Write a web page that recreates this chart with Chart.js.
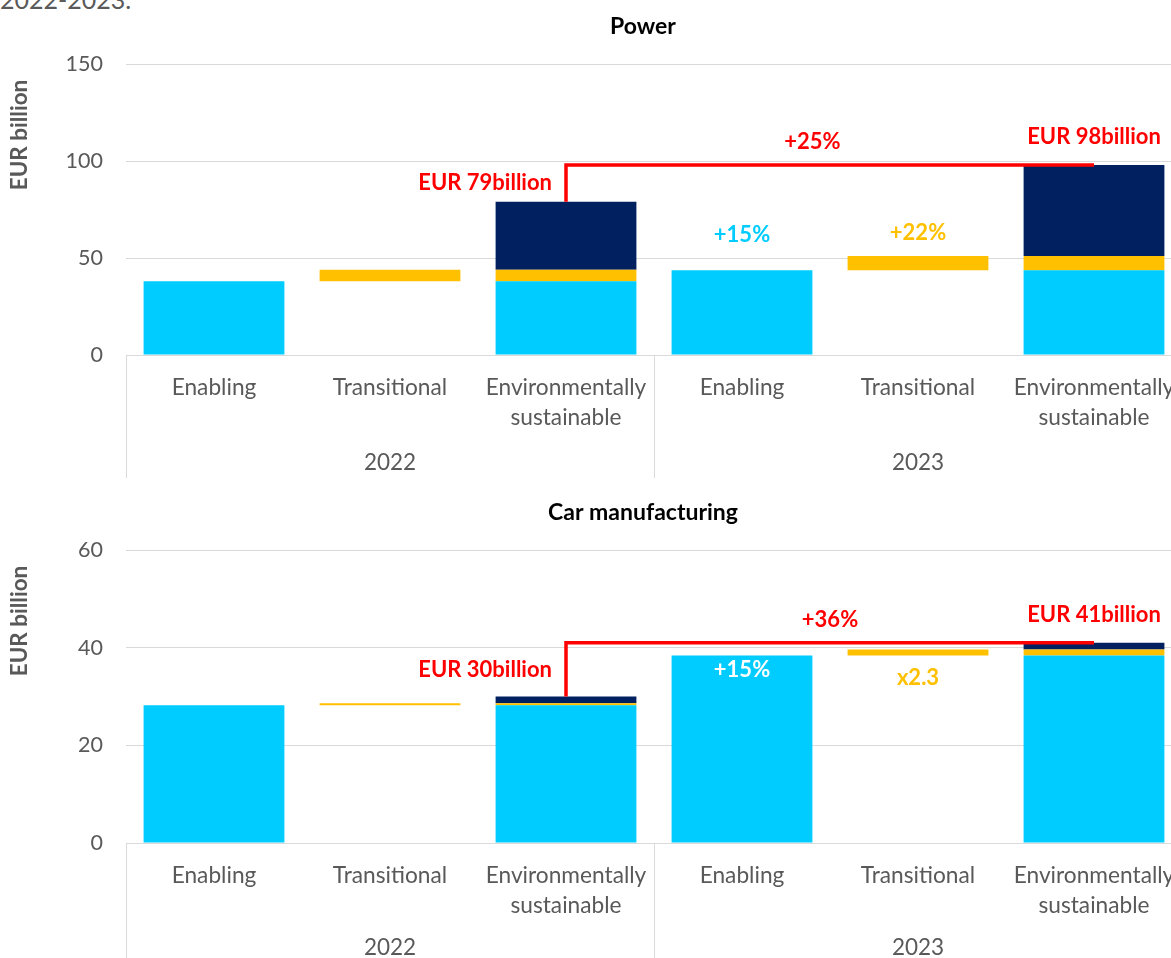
<!DOCTYPE html>
<html><head><meta charset="utf-8">
<script src="https://cdn.jsdelivr.net/npm/chart.js@4.4.1/dist/chart.umd.min.js"></script>
<style>
html,body{margin:0;padding:0;background:#fff;}
body{width:1171px;height:958px;overflow:hidden;position:relative;font-family:Lato,sans-serif;}
#caption{position:absolute;left:0;top:-13px;font-size:25px;line-height:1;color:#595959;white-space:nowrap;}
.panel{position:absolute;left:0;}
</style></head><body>
<div id="caption">2022-2023.</div>
<canvas id="power" class="panel" style="top:0" width="1286" height="482"></canvas>
<canvas id="car" class="panel" style="top:482px" width="1286" height="476"></canvas>
<script>
// Categories along the x axis, grouped by year
const categories = ["Enabling", "Transitional", ["Environmentally", "sustainable"],
                    "Enabling", "Transitional", ["Environmentally", "sustainable"]];
const years = ["2022", "2023"];

// Power sector, EUR billion (2022, 2023)
const powerEnabling = [38, 43.7];
const powerTransitional = [6, 7.3];
const powerAligned = [35, 47];
const powerTicks = [0, 50, 100, 150];

// Car manufacturing, EUR billion (2022, 2023)
const carEnabling = [28.2, 38.4];
const carTransitional = [0.4, 1.2];
const carAligned = [1.4, 1.4];
const carTicks = [0, 20, 40, 60];

const CYAN = '#00CCFF', YELLOW = '#FFC000', NAVY = '#002060', RED = '#FF0000', GREY = '#595959';
const FONT = 'Lato, sans-serif';

// Waterfall pieces as floating bars: enabling from zero, transitional on top of it,
// and the environmentally sustainable total stacked from all three
function buildDatasets(en, tr, al) {
  const cyan = [], yellow = [], navy = [];
  years.forEach((yr, k) => {
    const b = k * 3;
    const e = en[k], t = e + tr[k], tot = t + al[k];
    cyan[b] = [0, e]; cyan[b + 1] = null; cyan[b + 2] = [0, e];
    yellow[b] = null; yellow[b + 1] = [e, t]; yellow[b + 2] = [e, t];
    navy[b] = null; navy[b + 1] = null; navy[b + 2] = [t, tot];
  });
  const common = {barPercentage: 0.8, categoryPercentage: 1.0, borderWidth: 0};
  return [
    Object.assign({label: 'Enabling', data: cyan, backgroundColor: CYAN}, common),
    Object.assign({label: 'Transitional', data: yellow, backgroundColor: YELLOW}, common),
    Object.assign({label: 'Environmentally sustainable', data: navy, backgroundColor: NAVY}, common)
  ];
}

function totals(en, tr, al) {
  return years.map((y, k) => en[k] + tr[k] + al[k]);
}

// Draws the panel title, the axis title, year groups and the growth annotations
const decorations = {
  id: 'decorations',
  afterDraw(chart, args, o) {
    const {ctx, chartArea: ca, scales: {x, y}} = chart;
    ctx.save();
    // panel title
    ctx.fillStyle = '#000';
    ctx.font = 'bold 23px ' + FONT;
    ctx.textAlign = 'center';
    ctx.textBaseline = 'middle';
    ctx.fillText(o.title, chart.width / 2, ca.top - 37);
    // y axis title
    ctx.save();
    ctx.translate(20, ca.top + 71);
    ctx.rotate(-Math.PI / 2);
    ctx.fillStyle = GREY;
    ctx.font = 'bold 22.5px ' + FONT;
    ctx.fillText('EUR billion', 0, 0);
    ctx.restore();
    // year group separators and labels
    const step = x.getPixelForValue(1) - x.getPixelForValue(0);
    ctx.strokeStyle = '#D9D9D9';
    ctx.lineWidth = 1;
    [0, 3, 6].forEach(i => {
      const px = Math.round(x.getPixelForValue(0) - step / 2 + i * step) + 0.5;
      ctx.beginPath();
      ctx.moveTo(px, ca.bottom);
      ctx.lineTo(px, ca.bottom + o.sepLength);
      ctx.stroke();
    });
    ctx.fillStyle = GREY;
    ctx.font = '22.5px ' + FONT;
    years.forEach((yr, k) => {
      ctx.fillText(yr, x.getPixelForValue(k * 3 + 1), ca.bottom + o.yearOffset);
    });
    // growth line between the two totals
    const x1 = x.getPixelForValue(2), x2 = x.getPixelForValue(5);
    const yLow = y.getPixelForValue(o.totals[0]), yHigh = y.getPixelForValue(o.totals[1]);
    ctx.strokeStyle = RED;
    ctx.lineWidth = 3.5;
    ctx.lineJoin = 'miter';
    ctx.beginPath();
    ctx.moveTo(x1, yLow);
    ctx.lineTo(x1, yHigh);
    ctx.lineTo(x2, yHigh);
    ctx.stroke();
    ctx.font = 'bold 22px ' + FONT;
    ctx.fillStyle = RED;
    ctx.textAlign = 'right';
    ctx.fillText('EUR ' + Math.round(o.totals[0]) + 'billion', x1 - 14, (yLow + yHigh) / 2);
    ctx.textAlign = 'center';
    ctx.fillText('EUR ' + Math.round(o.totals[1]) + 'billion', x2, yHigh - 28);
    const p3 = x.getPixelForValue(3);
    ctx.fillText(o.growth, p3 + o.growthFrac * step, yHigh - 23);
    // category growth labels for 2023
    const e23 = o.enabling[1], t23 = e23 + o.transitional[1];
    ctx.fillStyle = o.enInside ? '#FFFFFF' : CYAN;
    ctx.fillText(o.enLabel, p3, y.getPixelForValue(e23) + (o.enInside ? 14 : -35));
    ctx.fillStyle = YELLOW;
    const p4 = x.getPixelForValue(4);
    if (o.trBelow) ctx.fillText(o.trLabel, p4, y.getPixelForValue(e23) + 22);
    else ctx.fillText(o.trLabel, p4, y.getPixelForValue(t23) - 23);
    ctx.restore();
  }
};

function makeChart(id, en, tr, al, ticks, padTop, axisHeight, deco) {
  const tickStep = ticks[1] - ticks[0];
  return new Chart(document.getElementById(id), {
    type: 'bar',
    data: {labels: categories, datasets: buildDatasets(en, tr, al)},
    plugins: [decorations],
    options: {
      responsive: false,
      animation: false,
      devicePixelRatio: 1,
      layout: {padding: {top: padTop, right: 104, left: 0, bottom: 0}},
      plugins: {
        legend: {display: false},
        tooltip: {enabled: false},
        decorations: Object.assign({totals: totals(en, tr, al), enabling: en, transitional: tr}, deco)
      },
      scales: {
        x: {
          stacked: true,
          grid: {display: false, drawTicks: false},
          border: {display: true, color: '#D9D9D9', width: 1},
          ticks: {color: GREY, font: {family: FONT, size: 22.7, lineHeight: 1.34}, padding: 17,
                  autoSkip: false, maxRotation: 0, minRotation: 0},
          afterFit(s) { s.height = axisHeight; }
        },
        y: {
          min: ticks[0], max: ticks[ticks.length - 1],
          grid: {color: '#D9D9D9', lineWidth: 1, drawTicks: false},
          border: {display: false},
          ticks: {stepSize: tickStep, color: GREY, font: {family: FONT, size: 21.5}, padding: 23},
          afterFit(s) { s.width = 126; }
        }
      }
    }
  });
}

makeChart('power', powerEnabling, powerTransitional, powerAligned, powerTicks, 64, 127,
  {title: 'Power', growth: '+25%', growthFrac: 0.4, enLabel: '+15%', enInside: false,
   trLabel: '+22%', trBelow: false, sepLength: 123, yearOffset: 108});
makeChart('car', carEnabling, carTransitional, carAligned, carTicks, 68, 115,
  {title: 'Car manufacturing', growth: '+36%', growthFrac: 0.5, enLabel: '+15%', enInside: true,
   trLabel: 'x2.3', trBelow: true, sepLength: 130, yearOffset: 105});
</script>
</body></html>
